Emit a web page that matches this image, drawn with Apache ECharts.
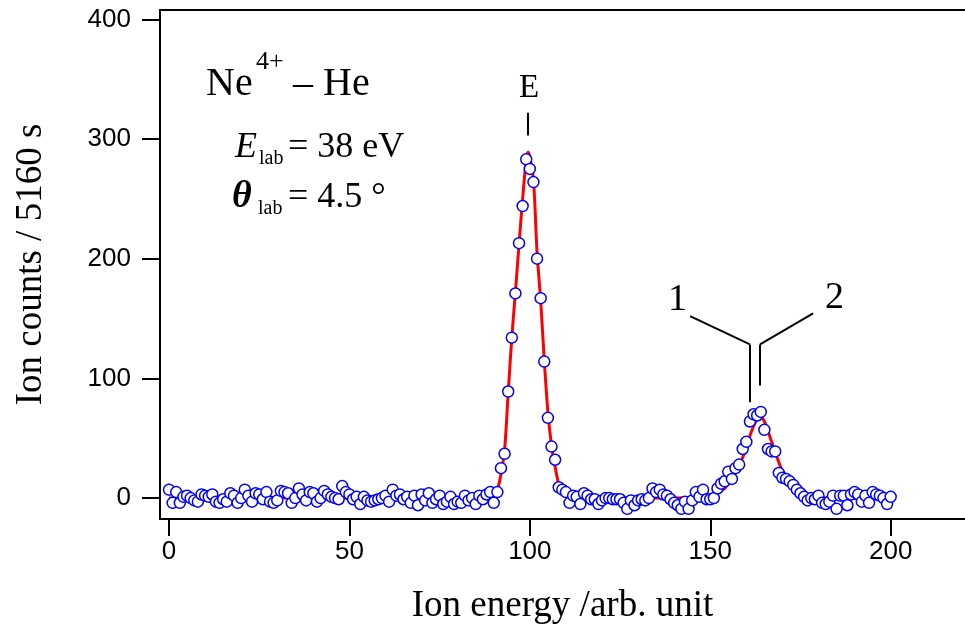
<!DOCTYPE html>
<html>
<head>
<meta charset="utf-8">
<script src="https://cdn.jsdelivr.net/npm/echarts@6/dist/echarts.min.js"></script>
<style>
  html, body { margin: 0; padding: 0; background: #fff; }
  #chart { width: 965px; height: 630px; }
</style>
</head>
<body>
<div id="chart"></div>
<script>
// 测量点：横坐标 0..200，每 1 个单位一个点
const energy = [];
for (let i = 0; i <= 200; i++) energy.push(i);

const counts = [
  7, -4, 5, -4, 1, 2, 0, -2, -3, 3,
  2, 1, 3, -3, -4, -1, -3, 4, 2, -4,
  0, 7, 2, -3, 4, 3, -1, 5, -3, -4,
  -2, 6, 5, 4, -4, 0, 8, 3, -2, 5,
  4, -3, 0, 6, 3, 1, 0, -1, 10, 5,
  3, -1, 1, -5, 1, -2, -3, -2, -1, 0,
  2, -3, 7, 2, 3, -1, 1, -4, 2, -6,
  3, -2, 4, -4, -1, 2, -5, -3, 1, -5,
  -3, -4, 2, -2, 0, -5, 2, -1, 3, 5,
  -4, 5, 25, 37, 89, 134, 171, 213, 244, 283,
  275, 264, 200, 167, 114, 67, 43, 32, 9, 7,
  5, -4, 2, 1, -5, 4, 2, -1, -1, -5,
  -2, 0, 0, -1, -1, -1, -4, -9, -2, -6,
  -2, -1, -2, 0, 8, 5, 7, 3, 2, -1,
  -4, -6, -9, -3, -9, -2, 5, 1, 7, -1,
  -1, 0, 8, 12, 14, 22, 16, 25, 28, 41,
  47, 64, 70, 69, 72, 57, 41, 39, 39, 21,
  17, 16, 14, 11, 7, 4, 1, -2, 0, -1,
  2, -4, -5, -3, 2, -9, 2, 2, -6, 3,
  5, 3, -3, 2, -4, 5, 3, 2, 0, -5,
  1
];

// 拟合曲线
const fitX = [0, 80, 86, 88, 89, 90, 91, 92, 93, 94, 95, 96, 97, 98, 99, 99.5, 100, 101, 102, 103, 104, 105, 106, 107, 108, 109, 110, 112, 115,
  140, 148, 150, 152, 154, 155, 156, 157, 158, 159, 160, 161, 162, 163, 164, 165, 166, 167, 168, 169, 170, 171, 172, 173, 174, 175, 177, 180, 185, 200];
const fitY = [0, 0, 0.3, 0.8, 1.5, 3, 7, 20, 40, 88, 134, 172, 212, 250, 283, 289, 285, 266, 205, 165, 115, 72, 44, 26, 12, 6, 3, 1, 0,
  0, 1, 2, 5, 8, 12, 16, 21, 27, 34, 42, 52, 60, 66, 68, 64, 56, 47, 38, 30, 22, 16, 11, 7, 5, 3, 1.5, 0.5, 0, 0];

const xTicks = [0, 50, 100, 150, 200];
const yTicks = [0, 100, 200, 300, 400];

// 标注线（数据坐标）
const peakTick = [[99.4, 303], [99.4, 322]];
const branch1 = [[144.4, 152], [161, 128.4], [161, 80]];
const branch2 = [[178.5, 154.3], [163.8, 128.4], [163.8, 94]];

const serif = "'Liberation Serif', 'Times New Roman', serif";
const sans = "'Liberation Sans', Arial, sans-serif";

const myChart = echarts.init(document.getElementById('chart'));

function seg(points) {
  const out = [];
  for (let i = 0; i < points.length - 1; i++) {
    out.push([{ coord: points[i] }, { coord: points[i + 1] }]);
  }
  return out;
}

// 文字：base 为基线位置
function txt(text, x, base, size, style) {
  return {
    type: 'text',
    left: x,
    top: base - 0.89 * size,
    style: {
      text: text,
      fill: '#000',
      font: (style || '') + ' ' + size + 'px ' + serif
    }
  };
}

const option = {
  animation: false,
  backgroundColor: '#fff',
  grid: { left: 160, right: 0, top: 10, bottom: 110 },
  xAxis: [
    {
      type: 'value',
      min: -2.5,
      max: 220.6,
      position: 'bottom',
      name: 'Ion energy /arb. unit',
      nameLocation: 'middle',
      nameGap: 69,
      nameTextStyle: { fontFamily: serif, fontSize: 37, color: '#000' },
      axisLine: { show: true, onZero: false, lineStyle: { color: '#000', width: 2 } },
      axisTick: { show: true, length: 17, customValues: xTicks, lineStyle: { color: '#000', width: 2 } },
      axisLabel: { customValues: xTicks, margin: 20, fontFamily: sans, fontSize: 26, color: '#000' },
      splitLine: { show: false }
    },
    {
      type: 'value',
      min: -2.5,
      max: 220.6,
      position: 'top',
      axisLine: { show: true, onZero: false, lineStyle: { color: '#000', width: 2 } },
      axisTick: { show: false },
      axisLabel: { show: false },
      splitLine: { show: false }
    }
  ],
  yAxis: {
    type: 'value',
    min: -17.5,
    max: 407.8,
    name: 'Ion counts / 5160 s',
    nameLocation: 'middle',
    nameGap: 110,
    nameTextStyle: { fontFamily: serif, fontSize: 37, color: '#000' },
    axisLine: { show: true, onZero: false, lineStyle: { color: '#000', width: 2 } },
    axisTick: { show: true, length: 18, customValues: yTicks, lineStyle: { color: '#000', width: 2 } },
    axisLabel: { customValues: yTicks, margin: 29, fontFamily: sans, fontSize: 26, color: '#000' },
    splitLine: { show: false }
  },
  series: [
    {
      name: 'fit',
      type: 'line',
      data: fitX.map((x, i) => [x, fitY[i]]),
      smooth: 0.3,
      showSymbol: false,
      lineStyle: { color: '#ff0000', width: 3 },
      z: 2,
      markLine: {
        silent: true,
        symbol: 'none',
        label: { show: false },
        lineStyle: { color: '#000', width: 2, type: 'solid' },
        data: seg(peakTick).concat(seg(branch1), seg(branch2))
      }
    },
    {
      name: 'data',
      type: 'scatter',
      data: energy.map((x, i) => [x, counts[i]]),
      symbol: 'circle',
      symbolSize: 11,
      itemStyle: { color: '#fff', borderColor: '#0000ff', borderWidth: 1.5, opacity: 1 },
      z: 3
    }
  ],
  graphic: [
    txt('Ne', 206, 100, 40),
    txt('4+', 256, 72, 26),
    txt('– He', 293, 100, 40),
    txt('E', 235, 162, 36, 'italic'),
    txt('lab', 259, 167, 20),
    txt('= 38 eV', 288, 162, 36),
    txt('θ', 232, 212, 38, 'italic bold'),
    txt('lab', 258, 217, 20),
    txt('= 4.5 °', 288, 212, 36),
    txt('E', 519, 101, 33),
    txt('1', 668, 315, 38),
    txt('2', 825, 313, 38)
  ]
};

myChart.setOption(option);
</script>
</body>
</html>
